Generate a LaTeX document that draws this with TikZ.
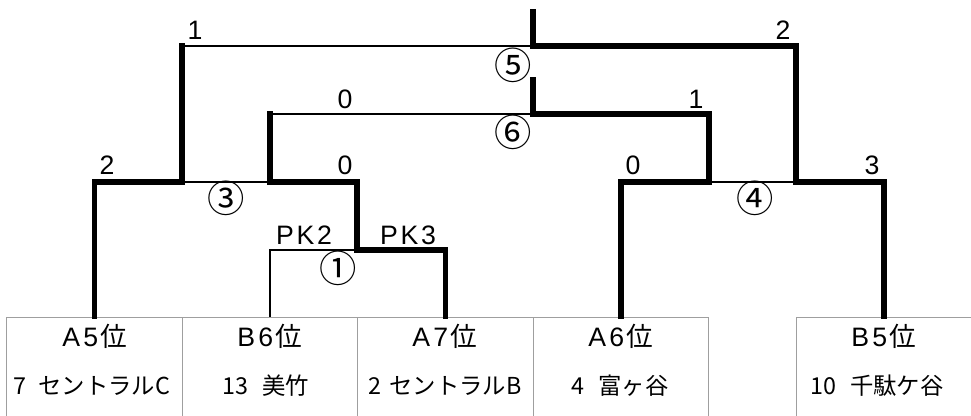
\documentclass[tikz,border=0pt]{standalone}
\usepackage{fontspec}
\setmainfont{Liberation Sans}
\newfontfamily\jp{Noto Sans CJK JP}
\begin{document}
\begin{tikzpicture}[x=0.75pt,y=-0.75pt,
  win/.style={line width=3.8pt,line join=miter,line cap=rect},
  lose/.style={line width=1.2pt},
  teambox/.style={draw=gray!75,line width=0.8pt,minimum width=131.5pt,minimum height=80pt,inner sep=0pt},
  head/.style={font=\fontsize{20}{22}\selectfont,inner sep=0pt},
  txt/.style={font=\jp\fontsize{17.5}{19}\selectfont,inner sep=0pt},
  score/.style={font=\fontsize{20}{22}\selectfont,inner sep=0pt},
  num/.style={font=\jp\fontsize{28}{30}\selectfont,inner sep=0pt}]
\useasboundingbox (0,0) rectangle (971,416);
% team boxes (extend below the page edge)
\node[teambox] (A5) at (94.5,370.5) {};
\node[teambox] (B6) at (270,370.5) {};
\node[teambox] (A7) at (445.5,370.5) {};
\node[teambox] (A6) at (621,370.5) {};
\node[teambox] (B5) at (884,370.5) {};
% texts
\node[head] (tA5) at (95,336) {A\hspace{0.12em}5\hspace{0.1em}{\jp 位}};
\node[head] (tB6) at (270,336) {B\hspace{0.12em}6\hspace{0.1em}{\jp 位}};
\node[head] (tA7) at (445,336) {A\hspace{0.12em}7\hspace{0.1em}{\jp 位}};
\node[head] (tA6) at (621,336) {A\hspace{0.12em}6\hspace{0.1em}{\jp 位}};
\node[head] (tB5) at (884,336) {B\hspace{0.12em}5\hspace{0.1em}{\jp 位}};
\node[txt] (nA5) at (92,386) {7\hspace{0.5em}セントラルC};
\node[txt] (nB6) at (266,386) {13\hspace{0.6em}美竹};
\node[txt] (nA7) at (445,386) {2\hspace{0.35em}セントラルB};
\node[txt] (nA6) at (620,386) {4\hspace{0.6em}富ヶ谷};
\node[txt] (nB5) at (877,386) {10\hspace{0.6em}千駄ケ谷};
% junctions
\coordinate (j1) at (357,250);
\coordinate (j3w) at (182,182);
\coordinate (j3l) at (270,182);
\coordinate (j4l) at (709,182);
\coordinate (j4w) at (796,182);
\coordinate (j5) at (533,46);
\coordinate (j6) at (533,114);
\coordinate (top5) at (533,12);
\coordinate (top6) at (533,80);
% bracket lines
\draw[lose] (B6.north) |- (j1);
\draw[lose] (j3w) -- (j3l);
\draw[lose] (j4l) -- (j4w);
\draw[lose] (j3l |- j6) -- (j6);
\draw[lose] (j3w |- j5) -- (j5);
\draw[win] (A5.north) |- (j3w) -- (j3w |- j5);
\draw[win] (A7.north) |- (j1) |- (j3l) -- (j3l |- j6);
\draw[win] (A6.north) |- (j4l) -- (j4l |- j6) -- (j6) -- (top6);
\draw[win] (B5.north) |- (j4w) -- (j4w |- j5) -- (j5) -- (top5);
% scores
\node[score] (s5l) at (195,30) {1};
\node[score] (s5r) at (783,30) {2};
\node[score] (s6l) at (345,99) {0};
\node[score] (s6r) at (696,99) {1};
\node[score] (s3l) at (107,165) {2};
\node[score] (s3r) at (345,165) {0};
\node[score] (s4l) at (633,165) {0};
\node[score] (s4r) at (872,165) {3};
\node[score] (pk2) at (304,235) {P\hspace{0.1em}K\hspace{0.1em}2};
\node[score] (pk3) at (408,235) {P\hspace{0.1em}K\hspace{0.1em}3};
% match numbers
\node[num] (m1) at (338,268) {①};
\node[num] (m3) at (226,198) {③};
\node[num] (m4) at (755,198) {④};
\node[num] (m5) at (513,65) {⑤};
\node[num] (m6) at (513,132) {⑥};
\end{tikzpicture}
\end{document}
